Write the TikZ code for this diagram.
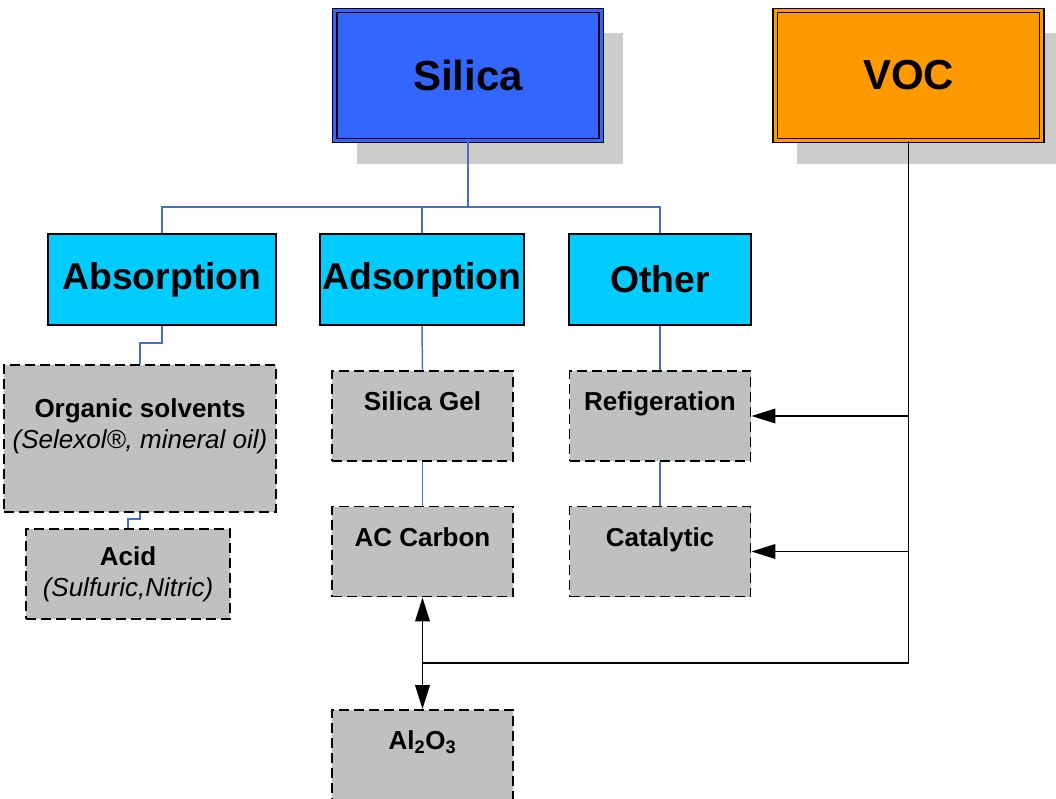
\documentclass[tikz,border=0pt]{standalone}
\usepackage{fontspec}
\setmainfont{Liberation Sans}
\usetikzlibrary{arrows.meta,shadows}
\definecolor{silicablue}{HTML}{3366FF}
\definecolor{vocorange}{HTML}{FF9900}
\definecolor{midcyan}{HTML}{00CCFF}
\definecolor{leafgray}{HTML}{C0C0C0}
\definecolor{treeblue}{RGB}{70,112,200}
\def\blankline{\\[-8pt]\strut}
\tikzset{
	topbox/.style={draw, line width=1pt, double distance=2.4pt, inner sep=0pt,
		minimum width=200pt, minimum height=97.5pt,
		font=\fontsize{31.5}{38}\selectfont\bfseries,
		drop shadow={shadow xshift=16.5pt, shadow yshift=-17.25pt, fill=black!20, opacity=1}},
	midbox/.style={draw, fill=midcyan, line width=1.4pt, inner sep=0pt,
		minimum height=68.25pt, font=\fontsize{28}{33}\selectfont\bfseries},
	leafbox/.style={draw, fill=leafgray, line width=1.4pt, dash pattern=on 7.5pt off 3.75pt,
		inner sep=0pt, minimum width=135.75pt, minimum height=67.5pt, align=center,
		font=\fontsize{19.5}{23.25}\selectfont\bfseries},
	treeline/.style={draw=treeblue, line width=1.1pt},
	vocline/.style={draw=black, line width=1.1pt},
	vocarrow/.style={vocline, -{Triangle[length=18pt,width=11pt]}}
}
\begin{document}
\begin{tikzpicture}[x=0.75pt,y=-0.75pt]
		%%%%% START %%%%%
		\useasboundingbox (0,0) rectangle (1056,799);
		
		% top level
		\node[topbox, fill=silicablue, double=silicablue] (silica) at (468,75.5) {Silica};
		\node[topbox, fill=vocorange, double=vocorange] (voc) at (908.5,75.5) {VOC};
		
		% methods
		\node[midbox, minimum width=171pt] (absorp) at (162,279.5) {Absorption};
		\node[midbox, minimum width=153pt] (adsorp) at (422,279.5) {Adsorption};
		\node[midbox, minimum width=136.5pt] (other) at (660,279.5) {Other};
		
		% leaves
		\node[leafbox, minimum width=204pt, minimum height=110.25pt] (organic) at (140,438.5)
			{Organic solvents\\{\mdseries\itshape (Selexol®, mineral oil)}\blankline};
		\node[leafbox, minimum width=153pt] (acid) at (128,574)
			{Acid\\{\mdseries\itshape (Sulfuric,Nitric)}};
		\node[leafbox] (silicagel) at (422.5,416) {Silica Gel\blankline};
		\node[leafbox] (accarbon) at (422.5,551.5) {AC Carbon\blankline};
		\node[leafbox] (refig) at (660,416) {Refigeration\blankline};
		\node[leafbox] (catalytic) at (660,551.5) {Catalytic\blankline};
		\node[leafbox] (alox) at (422.5,755) {Al\textsubscript{2}O\textsubscript{3}\blankline};
		
		% tree
		\coordinate (bus) at (468,207);
		\draw[treeline] (silica.south) -- (bus);
		\draw[treeline] (bus) -| (absorp.north);
		\draw[treeline] (bus) -| (adsorp.north);
		\draw[treeline] (bus) -| (other.north);
		\draw[treeline] (absorp.south) -- ++(0,17) -| (organic.north);
		\draw[treeline] (organic.south) -- ++(0,6) -| (acid.north);
		\draw[treeline] (adsorp.south) -- (silicagel.north);
		\draw[treeline] (silicagel.south) -- (accarbon.north);
		\draw[treeline] (other.south) -- (refig.north);
		\draw[treeline] (refig.south) -- (catalytic.north);
		
		% voc feed
		\coordinate (vocjoin) at (422.5,663);
		\draw[vocline] (voc.south) |- (vocjoin);
		\draw[vocarrow] (voc.south |- refig.east) -- (refig.east);
		\draw[vocarrow] (voc.south |- catalytic.east) -- (catalytic.east);
		\draw[vocline, {Triangle[length=18pt,width=11pt]}-{Triangle[length=18pt,width=11pt]}] (accarbon.south) -- (alox.north);
		
		%%%%% END %%%%%
\end{tikzpicture}
\end{document}
